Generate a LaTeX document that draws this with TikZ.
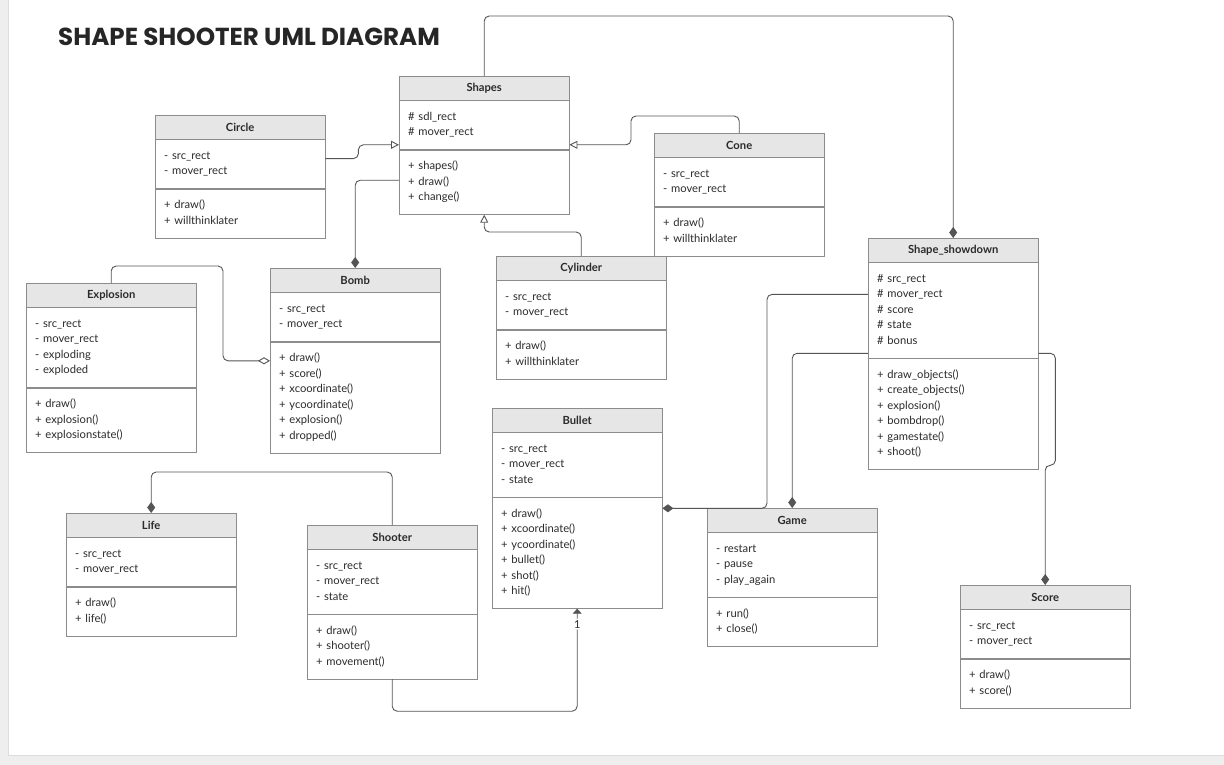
\documentclass[tikz,border=0pt]{standalone}
\usepackage{fontspec}
\setmainfont{Lato}
\newfontfamily\titlefont{Poppins}
\usepackage{xcolor}
\usepackage{tikz}
\usetikzlibrary{
    positioning,
    arrows.meta,
}
\definecolor{pagegray}{HTML}{EEEEEE}
\definecolor{pageedge}{HTML}{DCDCDC}
\definecolor{headfill}{HTML}{E6E6E6}
\definecolor{boxline}{HTML}{8C8C8C}
\definecolor{wire}{HTML}{555555}
\definecolor{ink}{HTML}{2B2B2B}
\tikzset{
    % Class box styles
    class head/.style={rectangle, draw=boxline, fill=headfill, minimum width=170pt,
                       minimum height=24pt, inner sep=0pt, anchor=north west, text=ink,
                       font=\fontsize{11.2}{12}\selectfont\bfseries},
    class body/.style={rectangle, draw=boxline, fill=white, text width=152pt,
                       inner xsep=9pt, inner ysep=9pt, align=left, text=ink,
                       font=\fontsize{11.2}{15.5}\selectfont,
                       execute at begin node=\strut, execute at end node=\strut},
    % Connector styles
    link/.style={draw=wire, line width=0.9pt, rounded corners=5pt},
    inherit/.style={link, -{Triangle[open, length=8pt, width=8pt]}},
    compose/.style={link, -{Diamond[length=11pt, width=8pt]}},
    aggregate/.style={link, -{Diamond[open, length=12pt, width=7pt]}},
    assoc/.style={link, -{Triangle[length=5pt, width=9pt]}},
}

\begin{document}
\begin{tikzpicture}[x=1pt, y=-1pt]
    % Page
    \useasboundingbox (0,0) rectangle (1224,765);
    \fill[pagegray] (0,0) rectangle (1224,765);
    \fill[white] (8,0) rectangle (1224,755);
    \draw[pageedge] (8,0) -- (8,755) -- (1224,755);

    % Title
    \node[anchor=base west, inner sep=0pt, text=black!85, font=\titlefont\fontsize{24.6}{25}\selectfont\bfseries] (title) at (58,46) {SHAPE SHOOTER UML DIAGRAM};

    % Shapes
    \node[class head] (shapes) at (399,76) {Shapes};
    \node[class body, below=0pt of shapes] (shapes-a) {\# sdl\_rect\\\# mover\_rect};
    \node[class body, below=0pt of shapes-a] (shapes-m) {+ shapes()\\+ draw()\\+ change()};

    % Circle
    \node[class head] (circ) at (155,115) {Circle};
    \node[class body, below=0pt of circ] (circ-a) {- src\_rect\\- mover\_rect};
    \node[class body, below=0pt of circ-a] (circ-m) {+ draw()\\+ willthinklater};

    % Cone
    \node[class head] (cone) at (654,133) {Cone};
    \node[class body, below=0pt of cone] (cone-a) {- src\_rect\\- mover\_rect};
    \node[class body, below=0pt of cone-a] (cone-m) {+ draw()\\+ willthinklater};

    % Cylinder
    \node[class head] (cyl) at (496,256) {Cylinder};
    \node[class body, below=0pt of cyl] (cyl-a) {- src\_rect\\- mover\_rect};
    \node[class body, below=0pt of cyl-a] (cyl-m) {+ draw()\\+ willthinklater};

    % Explosion
    \node[class head] (explosion) at (26,283) {Explosion};
    \node[class body, below=0pt of explosion] (explosion-a) {- src\_rect\\- mover\_rect\\- exploding\\- exploded};
    \node[class body, below=0pt of explosion-a] (explosion-m) {+ draw()\\+ explosion()\\+ explosionstate()};

    % Bomb
    \node[class head] (bomb) at (270,268) {Bomb};
    \node[class body, below=0pt of bomb] (bomb-a) {- src\_rect\\- mover\_rect};
    \node[class body, below=0pt of bomb-a] (bomb-m) {+ draw()\\+ score()\\+ xcoordinate()\\+ ycoordinate()\\+ explosion()\\+ dropped()};

    % Shape_showdown
    \node[class head] (showdown) at (868,238) {Shape\_showdown};
    \node[class body, below=0pt of showdown] (showdown-a) {\# src\_rect\\\# mover\_rect\\\# score\\\# state\\\# bonus};
    \node[class body, below=0pt of showdown-a] (showdown-m) {+ draw\_objects()\\+ create\_objects()\\+ explosion()\\+ bombdrop()\\+ gamestate()\\+ shoot()};

    % Bullet
    \node[class head] (bullet) at (492,408) {Bullet};
    \node[class body, below=0pt of bullet] (bullet-a) {- src\_rect\\- mover\_rect\\- state};
    \node[class body, below=0pt of bullet-a] (bullet-m) {+ draw()\\+ xcoordinate()\\+ ycoordinate()\\+ bullet()\\+ shot()\\+ hit()};

    % Game
    \node[class head] (game) at (707,508) {Game};
    \node[class body, below=0pt of game] (game-a) {- restart\\- pause\\- play\_again};
    \node[class body, below=0pt of game-a] (game-m) {+ run()\\+ close()};

    % Life
    \node[class head] (life) at (66,513) {Life};
    \node[class body, below=0pt of life] (life-a) {- src\_rect\\- mover\_rect};
    \node[class body, below=0pt of life-a] (life-m) {+ draw()\\+ life()};

    % Shooter
    \node[class head] (shooter) at (307,525) {Shooter};
    \node[class body, below=0pt of shooter] (shooter-a) {- src\_rect\\- mover\_rect\\- state};
    \node[class body, below=0pt of shooter-a] (shooter-m) {+ draw()\\+ shooter()\\+ movement()};

    % Score
    \node[class head] (score) at (960,585) {Score};
    \node[class body, below=0pt of score] (score-a) {- src\_rect\\- mover\_rect};
    \node[class body, below=0pt of score-a] (score-m) {+ draw()\\+ score()};

    % Inheritance
    \draw[inherit] ([yshift=5.5pt]circ-a.east) -- ++(33,0) |- ([yshift=5pt]shapes-a.south west);
    \draw[inherit] (cone.north) |- (631,116) |- ([yshift=5pt]shapes-a.south east);
    \draw[inherit] (cyl.north) -- ++(0,-24) -| (shapes-m.south);

    % Composition / aggregation
    \draw[compose] ([yshift=2pt]shapes-m.west) -| (bomb.north);
    \draw[aggregate] (explosion.north) |- (223,266) |- ([yshift=-19pt]bomb-m.north west);
    \draw[compose] (shapes.north) -- ++(0,-60) -| (showdown.north);
    \draw[compose] ([yshift=-32pt]showdown-a.north west) -- ++(-101,0) |- ([yshift=-11pt]bullet-m.north east);
    \draw[compose] ([yshift=5pt]showdown-a.south west) -| (game.north);
    \draw[compose] ([yshift=5pt]showdown-a.south east) -| ++(17,112) -| (score.north);
    \draw[compose] (shooter.north) -- ++(0,-53) -| (life.north);

    % Association
    \draw[assoc] (shooter-m.south) -- ++(0,32) -| (bullet-m.south)
        node[pos=0.925, fill=white, inner sep=1.5pt, text=ink, font=\fontsize{11}{12}\selectfont] (mult) {1};
\end{tikzpicture}
\end{document}
